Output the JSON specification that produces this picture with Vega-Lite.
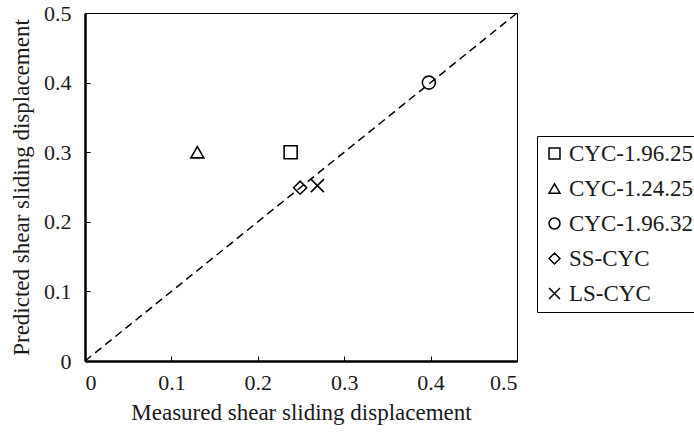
{
  "$schema": "https://vega.github.io/schema/vega-lite/v6.json",
  "width": 432,
  "height": 348,
  "autosize": {"type": "none"},
  "padding": {"left": 85, "top": 13, "right": 177, "bottom": 71},
  "background": "white",
  "config": {
    "font": "Liberation Serif",
    "view": {"stroke": "black", "strokeWidth": 1},
    "axis": {
      "labelFont": "Liberation Serif",
      "titleFont": "Liberation Serif",
      "labelFontSize": 22,
      "titleFontSize": 23,
      "titleFontWeight": "normal",
      "labelColor": "#1a1a1a",
      "titleColor": "#1a1a1a",
      "domainColor": "black",
      "domainWidth": 2.5,
      "tickColor": "black",
      "tickWidth": 1,
      "tickSize": -5,
      "grid": false
    }
  },
  "layer": [
    {
      "data": {"values": [{"mx": 0, "py": 0}, {"mx": 0.5, "py": 0.5}]},
      "mark": {"type": "line", "color": "black", "strokeWidth": 1.5, "strokeDash": [8, 5]},
      "encoding": {
        "x": {"field": "mx", "type": "quantitative"},
        "y": {"field": "py", "type": "quantitative"}
      }
    },
    {
      "data": {
        "values": [
          {"specimen": "CYC-1.96.25", "measured": 0.238, "predicted": 0.300},
          {"specimen": "CYC-1.24.25", "measured": 0.130, "predicted": 0.300},
          {"specimen": "CYC-1.96.32", "measured": 0.398, "predicted": 0.400},
          {"specimen": "SS-CYC", "measured": 0.249, "predicted": 0.249},
          {"specimen": "LS-CYC", "measured": 0.269, "predicted": 0.252}
        ]
      },
      "mark": {"type": "point", "filled": false, "stroke": "black", "strokeWidth": 1.6, "size": 170, "opacity": 1},
      "encoding": {
        "x": {
          "field": "measured", "type": "quantitative",
          "scale": {"domain": [0, 0.5], "nice": false},
          "axis": {"values": [0, 0.1, 0.2, 0.3, 0.4, 0.5], "format": "~g", "title": "Measured shear sliding displacement", "labelPadding": 16, "titlePadding": 8}
        },
        "y": {
          "field": "predicted", "type": "quantitative",
          "scale": {"domain": [0, 0.5], "nice": false},
          "axis": {"values": [0, 0.1, 0.2, 0.3, 0.4, 0.5], "format": "~g", "title": "Predicted shear sliding displacement", "labelPadding": 19, "titlePadding": 10}
        },
        "shape": {
          "field": "specimen", "type": "nominal",
          "scale": {
            "domain": ["CYC-1.96.25", "CYC-1.24.25", "CYC-1.96.32", "SS-CYC", "LS-CYC"],
            "range": ["square", "triangle-up", "circle", "diamond", "M-1,-1L1,1M-1,1L1,-1"]
          },
          "legend": {
            "title": null,
            "orient": "none",
            "legendX": 452,
            "legendY": 123,
            "strokeColor": "black",
            "fillColor": "white",
            "padding": 6,
            "labelFont": "Liberation Serif",
            "labelFontSize": 23,
            "labelColor": "#1a1a1a",
            "symbolSize": 120,
            "symbolStrokeColor": "black",
            "symbolStrokeWidth": 1.5,
            "symbolFillColor": "transparent",
            "rowPadding": 11,
            "labelOffset": 3,
            "labelLimit": 300
          }
        }
      }
    }
  ]
}
